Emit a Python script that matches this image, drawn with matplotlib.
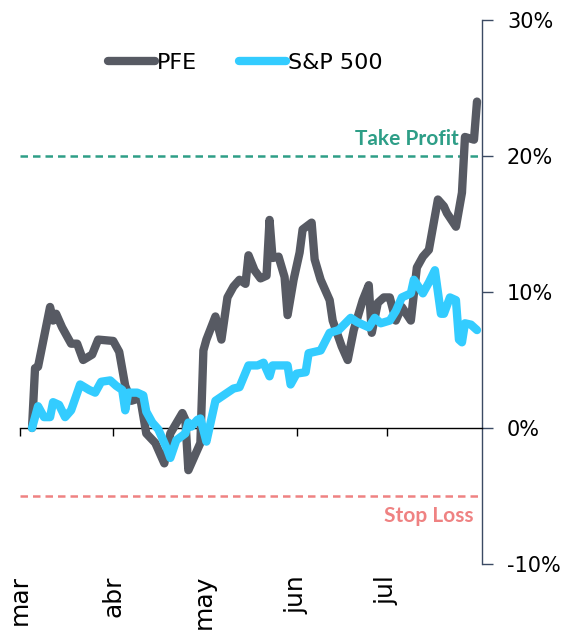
import numpy as np
import pandas as pd
import matplotlib
matplotlib.use("Agg")
import matplotlib.pyplot as plt
import matplotlib.dates as mdates
from matplotlib.ticker import FixedLocator, FuncFormatter

# ── data (cumulative return, %) ──────────────────────────────────────────────
pfe_dates = [
    "2021-03-05", "2021-03-06", "2021-03-07", "2021-03-11", "2021-03-12", "2021-03-13",
    "2021-03-15", "2021-03-18", "2021-03-20", "2021-03-22", "2021-03-25", "2021-03-27",
    "2021-04-01", "2021-04-03", "2021-04-05", "2021-04-07", "2021-04-10", "2021-04-12",
    "2021-04-15", "2021-04-18", "2021-04-20", "2021-04-24", "2021-04-25", "2021-04-26",
    "2021-04-28", "2021-04-30", "2021-05-01", "2021-05-02", "2021-05-05", "2021-05-07",
    "2021-05-09", "2021-05-11", "2021-05-13", "2021-05-15", "2021-05-16", "2021-05-18",
    "2021-05-20", "2021-05-22", "2021-05-23", "2021-05-24", "2021-05-26", "2021-05-28",
    "2021-05-29", "2021-05-31", "2021-06-02", "2021-06-03", "2021-06-06", "2021-06-07",
    "2021-06-09", "2021-06-12", "2021-06-13", "2021-06-16", "2021-06-18", "2021-06-20",
    "2021-06-23", "2021-06-25", "2021-06-26", "2021-06-28", "2021-06-30", "2021-07-02",
    "2021-07-04", "2021-07-06", "2021-07-09", "2021-07-11", "2021-07-13", "2021-07-15",
    "2021-07-18", "2021-07-20", "2021-07-21", "2021-07-24", "2021-07-26", "2021-07-27",
    "2021-07-30", "2021-07-31",
]
pfe_ret = [
    0.0, 4.4, 4.5, 8.9, 7.9, 8.4,
    7.4, 6.2, 6.2, 5.0, 5.4, 6.5,
    6.4, 5.6, 3.1, 2.0, 2.2, -0.4,
    -1.1, -2.6, -0.4, 1.1, 0.6, -3.1,
    -2.1, -1.1, 5.7, 6.5, 8.2, 6.5,
    9.6, 10.4, 10.9, 10.6, 12.7, 11.6,
    11.0, 11.2, 15.3, 12.5, 12.6, 11.1,
    8.3, 10.9, 12.9, 14.6, 15.1, 12.4,
    10.9, 9.4, 7.9, 6.0, 5.0, 7.2,
    9.4, 10.5, 7.0, 9.2, 9.6, 9.6,
    7.9, 8.9, 7.9, 11.8, 12.6, 13.1,
    16.8, 16.3, 15.8, 14.8, 17.3, 21.4,
    21.2, 24.0,
]

spx_dates = [
    "2021-03-05", "2021-03-07", "2021-03-09", "2021-03-11", "2021-03-12", "2021-03-14",
    "2021-03-16", "2021-03-18", "2021-03-21", "2021-03-24", "2021-03-26", "2021-03-28",
    "2021-03-31", "2021-04-02", "2021-04-04", "2021-04-05", "2021-04-06", "2021-04-09",
    "2021-04-11", "2021-04-12", "2021-04-14", "2021-04-16", "2021-04-19", "2021-04-20",
    "2021-04-22", "2021-04-25", "2021-04-26", "2021-04-27", "2021-04-29", "2021-04-30",
    "2021-05-02", "2021-05-03", "2021-05-05", "2021-05-09", "2021-05-11", "2021-05-13",
    "2021-05-16", "2021-05-19", "2021-05-21", "2021-05-23", "2021-05-24", "2021-05-29",
    "2021-05-30", "2021-06-01", "2021-06-04", "2021-06-05", "2021-06-09", "2021-06-12",
    "2021-06-15", "2021-06-19", "2021-06-21", "2021-06-25", "2021-06-27", "2021-06-29",
    "2021-07-02", "2021-07-04", "2021-07-06", "2021-07-09", "2021-07-10", "2021-07-13",
    "2021-07-15", "2021-07-17", "2021-07-19", "2021-07-20", "2021-07-22", "2021-07-24",
    "2021-07-25", "2021-07-26", "2021-07-27", "2021-07-29", "2021-07-31",
]
spx_ret = [
    0.0, 1.6, 0.8, 0.8, 1.9, 1.7,
    0.8, 1.3, 3.2, 2.8, 2.6, 3.4,
    3.5, 3.1, 2.8, 1.3, 2.6, 2.6,
    2.4, 1.2, 0.4, -0.1, -1.6, -2.2,
    -0.9, -0.4, 0.4, 0.1, 0.6, 0.7,
    -1.0, 0.0, 2.0, 2.6, 2.9, 3.0,
    4.6, 4.6, 4.8, 3.8, 4.6, 4.6,
    3.2, 4.0, 4.1, 5.5, 5.7, 7.0,
    7.2, 8.1, 7.8, 7.4, 8.1, 7.7,
    7.9, 8.6, 9.6, 9.9, 10.9, 9.9,
    10.7, 11.6, 8.4, 8.4, 9.6, 9.4,
    6.5, 6.3, 7.7, 7.6, 7.2,
]

take_profit = 20
stop_loss = -5
month_ticks = ["2021-03-01", "2021-04-01", "2021-05-01", "2021-06-01", "2021-07-01"]
month_labels = ["mar", "abr", "may", "jun", "jul"]
y_ticks = [-10, 0, 10, 20, 30]

PFE_COL = "#575a63"
SPX_COL = "#33ccff"
TP_COL = "#2e9e87"
SL_COL = "#ef8282"
SPINE_COL = "#3b4a63"

plt.rcParams["font.family"] = ["DejaVu Sans"]

fig = plt.figure(figsize=(5.62, 6.33), dpi=100)
ax = fig.add_axes([20 / 562, 1 - 564 / 633, 462 / 562, 544 / 633])

x_pfe = pd.to_datetime(pfe_dates)
x_spx = pd.to_datetime(spx_dates)

ax.axhline(take_profit, color=TP_COL, ls=(0, (3, 2)), lw=1.8, zorder=1)
ax.axhline(stop_loss, color=SL_COL, ls=(0, (3, 2)), lw=1.8, zorder=1)

ax.plot(x_pfe, pfe_ret, color=PFE_COL, lw=6, solid_capstyle="round",
        solid_joinstyle="round", label="PFE", zorder=3)
ax.plot(x_spx, spx_ret, color=SPX_COL, lw=6, solid_capstyle="round",
        solid_joinstyle="round", label="S&P 500", zorder=4)

ax.text(pd.Timestamp("2021-07-25"), take_profit + 0.8, "Take Profit", color=TP_COL,
        fontsize=15, fontweight="bold", family="Lato", ha="right", va="baseline")
ax.text(pd.Timestamp("2021-07-30"), stop_loss - 0.75, "Stop Loss", color=SL_COL,
        fontsize=15, fontweight="bold", family="Lato", ha="right", va="top")

ax.set_xlim(pd.Timestamp("2021-03-01"), pd.Timestamp("2021-08-01 16:00"))
ax.set_ylim(-10, 30)

# spines: right axis for y, bottom spine sits on zero
for s in ("left", "top"):
    ax.spines[s].set_visible(False)
ax.spines["right"].set_color(SPINE_COL)
ax.spines["right"].set_linewidth(1.0)
ax.spines["bottom"].set_position(("data", 0))
ax.spines["bottom"].set_color("black")
ax.spines["bottom"].set_linewidth(1.0)

ax.yaxis.tick_right()
ax.yaxis.set_major_locator(FixedLocator(y_ticks))
ax.yaxis.set_major_formatter(FuncFormatter(lambda v, p: f"{v:.0f}%"))
ax.tick_params(axis="y", direction="out", length=8, width=1, color=SPINE_COL,
               labelsize=15, pad=10, left=False)

tick_pos = mdates.date2num(pd.to_datetime(month_ticks))
ax.xaxis.set_major_locator(FixedLocator(tick_pos))
ax.tick_params(axis="x", direction="out", length=6, width=1, labelbottom=False)

sec = ax.secondary_xaxis("bottom")
sec.spines["bottom"].set_visible(False)
sec.xaxis.set_major_locator(FixedLocator(tick_pos))
sec.set_xticklabels(month_labels, rotation=90, fontsize=18)
sec.tick_params(axis="x", length=0, pad=8)

ax.legend(loc="center left", bbox_to_anchor=(88 / 462, 1 - 43 / 544), ncol=2,
          frameon=False, fontsize=16, handlelength=2.1, handletextpad=0.1,
          columnspacing=1.9, borderaxespad=0, borderpad=0)

fig.savefig("out.png", dpi=100)
